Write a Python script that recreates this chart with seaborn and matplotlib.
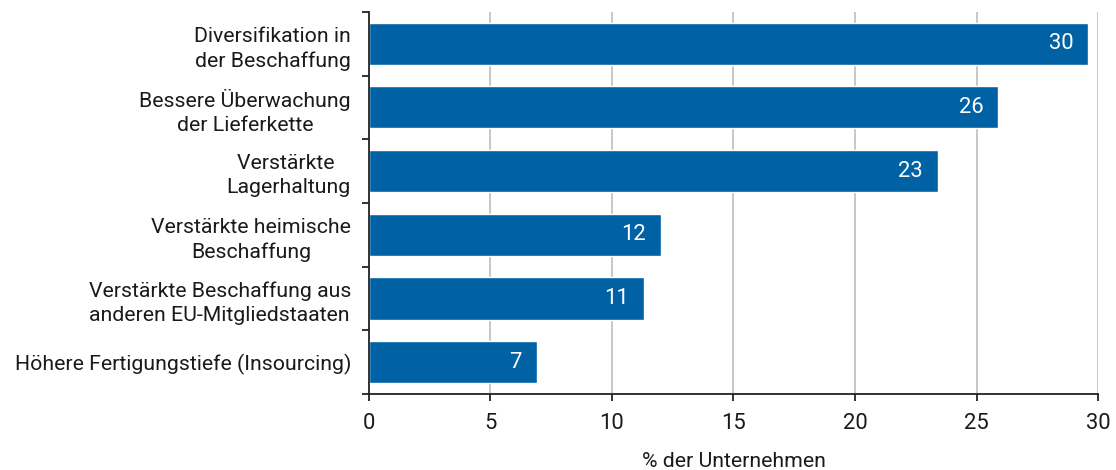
import matplotlib
matplotlib.use("Agg")
import matplotlib.pyplot as plt
import seaborn as sns
import pandas as pd
from matplotlib.ticker import FixedLocator

categories = [
    "Diversifikation in\nder Beschaffung",
    "Bessere Überwachung\nder Lieferkette",
    "Verstärkte \nLagerhaltung",
    "Verstärkte heimische\nBeschaffung",
    "Verstärkte Beschaffung aus\nanderen EU-Mitgliedstaaten",
    "Höhere Fertigungstiefe (Insourcing)",
]
values = [29.6, 25.9, 23.4, 12.0, 11.3, 6.9]
xticks = [0, 5, 10, 15, 20, 25, 30]
xlabel = "% der Unternehmen"

sns.set_theme(style="white")
plt.rcParams["font.family"] = ["Roboto", "DejaVu Sans"]

FS = 15.3
df = pd.DataFrame({"cat": categories, "val": values})

fig = plt.figure(figsize=(11.16, 4.70), dpi=100)
ax = fig.add_axes([0.3306, 0.1617, 0.6533, 0.8128])

sns.barplot(data=df, x="val", y="cat", orient="h", color="#0062A4",
            saturation=1, width=0.66, ax=ax, zorder=3)

ax.set_xlim(0, 30)
ax.set_ylim(len(categories) - 0.5, -0.5)
ax.set_xticks(xticks)
ax.set_xticklabels([str(t) for t in xticks], fontsize=FS + 0.5, color="#1a1a1a")
ax.set_xlabel(xlabel, fontsize=FS, color="#1a1a1a")
ax.xaxis.set_label_coords(0.5, -0.152)
ax.set_ylabel("")

ax.set_yticks(range(len(categories)))
ax.set_yticklabels(categories, fontsize=FS, color="#1a1a1a",
                   multialignment="center", linespacing=1.35)
ax.tick_params(axis="y", which="major", left=True, length=0, pad=13)
ax.tick_params(axis="x", which="major", bottom=True, length=5, width=1.3,
               color="#222222", direction="out", pad=9)

# boundary ticks on the y axis
ax.yaxis.set_minor_locator(FixedLocator([i - 0.5 for i in range(len(categories) + 1)]))
ax.tick_params(axis="y", which="minor", left=True, length=5, width=1.3,
               color="#222222", direction="out")

ax.grid(False)
for t in xticks[1:]:
    ax.axvline(t, color="#bdbdbd", lw=1.2, zorder=1)

for s in ["top", "right"]:
    ax.spines[s].set_visible(False)
for s in ["left", "bottom"]:
    ax.spines[s].set_color("#222222")
    ax.spines[s].set_linewidth(1.3)
    ax.spines[s].set_zorder(4)

for i, v in enumerate(values):
    ax.text(v - 0.6, i, f"{round(v):d}", ha="right", va="center",
            color="white", fontsize=FS + 0.5, zorder=5)

fig.savefig("out.png", dpi=100)
